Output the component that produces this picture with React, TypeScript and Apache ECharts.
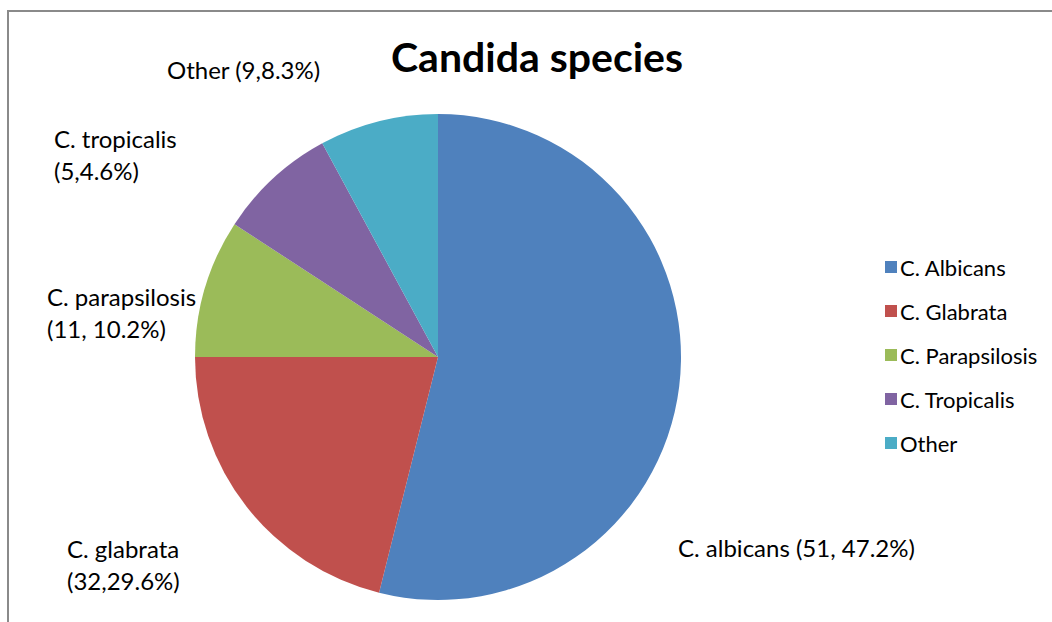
import React, { useEffect, useRef } from "react";
import * as echarts from "echarts";

const categories = ["C. Albicans", "C. Glabrata", "C. Parapsilosis", "C. Tropicalis", "Other"];
// slice sizes (percent of circle)
const sliceValues = [53.9, 21.1, 9.2, 7.9, 7.9];
const labelTexts = [
  "C. albicans (51, 47.2%)",
  "C. glabrata\n(32,29.6%)",
  "C. parapsilosis\n(11, 10.2%)",
  "C. tropicalis\n(5,4.6%)",
  "Other (9,8.3%)",
];
const colors = ["#4F81BD", "#C0504D", "#9BBB59", "#8064A2", "#4BACC6"];
const labelPos: [number, number][] = [
  [678, 531],
  [67, 532],
  [47, 280],
  [54, 122],
  [167, 53],
];

const FONT = "Lato, 'Open Sans', sans-serif";

export default function App() {
  const ref = useRef<HTMLDivElement>(null);
  useEffect(() => {
    document.body.style.margin = "0";
    const chart = echarts.init(ref.current!, undefined, { renderer: "svg" });
    chart.setOption({
      animation: false,
      backgroundColor: "#ffffff",
      color: colors,
      title: {
        text: "Candida species",
        left: 532,
        top: 31,
        textAlign: "center",
        textStyle: { fontFamily: FONT, fontSize: 41, fontWeight: "bold", color: "#000" },
      },
      legend: {
        orient: "vertical",
        left: 880,
        top: 250,
        itemWidth: 12,
        itemHeight: 12,
        itemGap: 20,
        icon: "rect",
        data: categories,
        textStyle: { fontFamily: FONT, fontSize: 22, color: "#000", lineHeight: 24, padding: [0, 0, 0, -2] },
      },
      graphic: [
        {
          type: "rect",
          shape: { x: 8, y: 11, width: 1200, height: 800 },
          style: { fill: "none", stroke: "#8a8a8a", lineWidth: 2 },
          silent: true,
          z: 100,
        },
      ],
      series: [
        {
          type: "pie",
          center: [438, 357],
          radius: 243,
          startAngle: 90,
          clockwise: true,
          silent: true,
          data: categories.map((name, i) => ({ name, value: sliceValues[i] })),
          label: {
            show: true,
            position: "outside",
            formatter: (p: any) => labelTexts[p.dataIndex],
            fontFamily: FONT,
            fontSize: 24,
            lineHeight: 32,
            color: "#000",
            align: "left",
            overflow: "none",
            width: 400,
          },
          labelLine: { show: false },
          labelLayout: (p: any) => ({
            x: labelPos[p.dataIndex][0],
            y: labelPos[p.dataIndex][1],
            align: "left",
            verticalAlign: "top",
            hideOverlap: false,
          }),
          itemStyle: { borderWidth: 0 },
        },
      ],
    });
    return () => chart.dispose();
  }, []);
  return <div ref={ref} style={{ width: 1052, height: 622 }} />;
}
